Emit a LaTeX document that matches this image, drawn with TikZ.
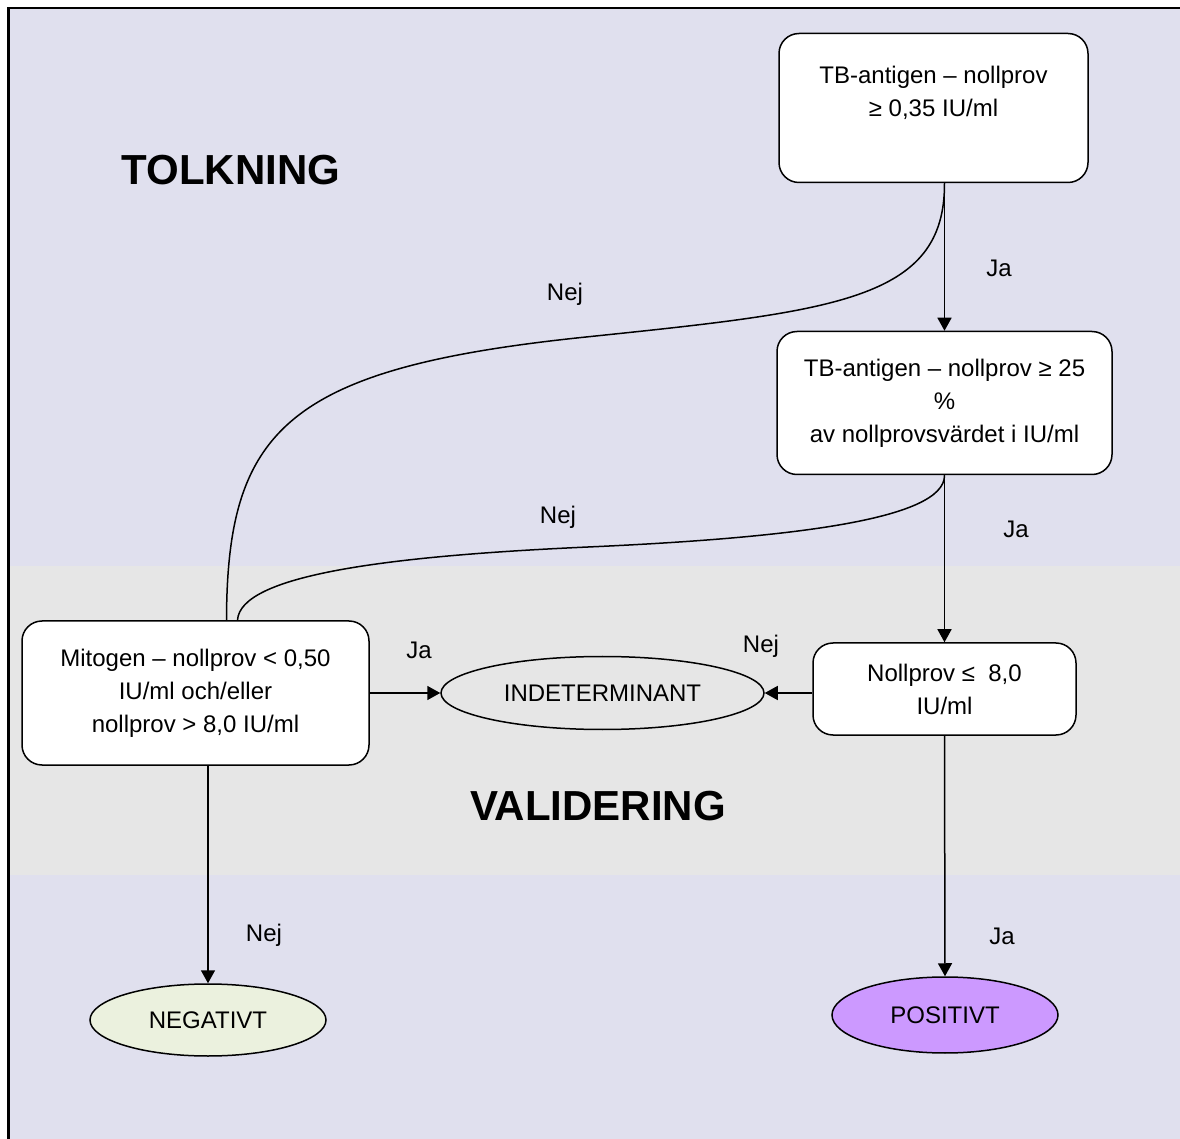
\documentclass[tikz,border=0pt]{standalone}
\usepackage{fontspec}
\setmainfont{Liberation Sans}
\usepackage{xcolor}
\usetikzlibrary{shapes.geometric, arrows.meta}
\definecolor{lavender}{HTML}{E0E0EE}
\definecolor{bandgray}{HTML}{E6E6E6}
\definecolor{negfill}{HTML}{EBF1DE}
\definecolor{posfill}{HTML}{CC99FF}
\tikzstyle{every node}=[font=\fontsize{12}{16.5}\selectfont]
\tikzstyle{test} = [rectangle, draw, fill=white, text centered, align=center, rounded corners=10pt, line width=0.75pt]
\tikzstyle{result} = [ellipse, draw, inner sep=0pt, line width=0.75pt]
\tikzstyle{heading} = [font=\fontsize{21}{25}\selectfont\bfseries]
\tikzstyle{line} = [draw, line width=0.75pt, -{Triangle[length=6.5pt,width=7pt]}]
\tikzstyle{curve} = [draw, line width=0.75pt]

\begin{document}
\begin{tikzpicture}[x=0.5pt, y=-0.5pt]
    \useasboundingbox (0,0) rectangle (1180,1139);
    % Background and band
    \fill [lavender] (9,8) rectangle (1180,1139);
    \fill [bandgray] (10,566) rectangle (1180,875);
    \draw [line width=1.25pt] (8.6,1139) -- (8.6,7.8) -- (1180,7.8);
    % Place nodes
    \node [heading] (tolkning) at (231,170) {TOLKNING};
    \node [heading] (validering) at (598,806) {VALIDERING};
    \node [test, minimum width=154.5pt, minimum height=74.5pt] (antigen) at (933.5,108) {TB-antigen – nollprov\\ ≥ 0,35 IU/ml\\ \mbox{}};
    \node [test, minimum width=167.5pt, minimum height=71.5pt] (ratio) at (944.5,403) {TB-antigen – nollprov ≥ 25\\ \%\\ av nollprovsvärdet i IU/ml};
    \node [test, minimum width=131.5pt, minimum height=46pt] (nollprov) at (944.5,689) {Nollprov ≤\ \ 8,0\\ IU/ml};
    \node [test, minimum width=173.5pt, minimum height=72pt] (mitogen) at (195.5,693) {Mitogen – nollprov < 0,50\\ IU/ml och/eller\\ nollprov > 8,0 IU/ml};
    \node [result, fill=bandgray, minimum width=161.5pt, minimum height=36.5pt] (indet) at (602.5,693) {INDETERMINANT};
    \node [result, fill=negfill, minimum width=118pt, minimum height=36pt] (negativ) at (208,1020) {NEGATIVT};
    \node [result, fill=posfill, minimum width=113pt, minimum height=38pt] (positiv) at (945,1015) {POSITIVT};
    % Labels
    \node (nej1) at (565,294) {Nej};
    \node (ja1) at (999,268) {Ja};
    \node (nej2) at (558,517) {Nej};
    \node (ja2) at (1016,529) {Ja};
    \node (ja3) at (419,650) {Ja};
    \node (nej3) at (761,646) {Nej};
    \node (nej4) at (264,935) {Nej};
    \node (ja4) at (1002,936) {Ja};
    % Draw edges
    \path [line] (antigen.south -| ratio.north) -- (ratio.north);
    \path [curve] (antigen.south -| ratio.north) .. controls (945,300) and (836,311) .. (586,337)
        .. controls (286,368) and (227,430) .. ([xshift=15.5pt]mitogen.north);
    \path [line] (ratio.south) -- (nollprov.north);
    \path [curve] (ratio.south) .. controls (945,520) and (788,538) .. (588,547)
        .. controls (388,556) and (240,575) .. ([xshift=21pt]mitogen.north);
    \path [line] (mitogen.east) -- (indet.west);
    \path [line] (nollprov.west |- indet.east) -- (indet.east);
    \path [line] (mitogen.south -| negativ.north) -- (negativ.north);
    \path [line] (nollprov.south) -- (positiv.north);
\end{tikzpicture}
\end{document}
